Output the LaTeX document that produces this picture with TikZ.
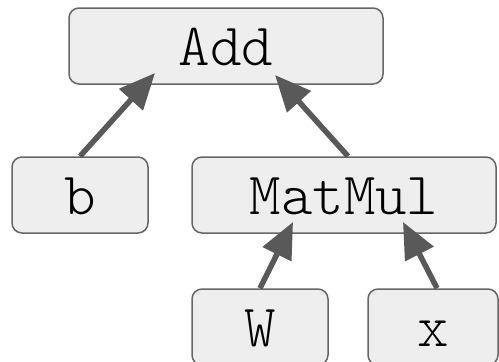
\documentclass[tikz,border=0pt]{standalone}
\usepackage{fontspec}
\setmonofont{Latin Modern Mono Light}
\usetikzlibrary{arrows.meta}
\definecolor{boxfill}{HTML}{EEEEEE}
\definecolor{boxline}{HTML}{666666}
\definecolor{edgecol}{HTML}{595959}
\begin{document}
\begin{tikzpicture}[x=1pt,y=-1pt,
  opnode/.style={draw=boxline,fill=boxfill,line width=1.5pt,rounded corners=10pt,
    inner sep=0pt,minimum height=76pt,text height=38pt,text depth=0pt,
    font=\fontsize{60}{66}\selectfont\ttfamily},
  flow/.style={draw=edgecol,line width=5.5pt,
    -{Triangle[length=36pt,width=31pt]}}]
  \useasboundingbox (0,0) rectangle (499,362);
  % operation and input nodes
  \node[opnode,minimum width=314pt] (add) at (226,46) {Add};
  \node[opnode,minimum width=136pt] (b) at (80,195) {b};
  \node[opnode,minimum width=304pt] (matmul) at (344,195) {MatMul};
  \node[opnode,minimum width=136pt] (w) at (260,327) {W};
  \node[opnode,minimum width=130pt] (xin) at (433,327) {x};
  % arrow tips reach into the target boxes
  \coordinate (addL) at (155,73);
  \coordinate (addR) at (275,75);
  \coordinate (mmL) at (293,222);
  \coordinate (mmR) at (403,222);
  % data flow
  \draw[flow] (b.north) -- (addL);
  \draw[flow] ([xshift=4pt]matmul.north) -- (addR);
  \draw[flow] (w.north) -- (mmL);
  \draw[flow] ([xshift=4pt]xin.north) -- (mmR);
\end{tikzpicture}
\end{document}
